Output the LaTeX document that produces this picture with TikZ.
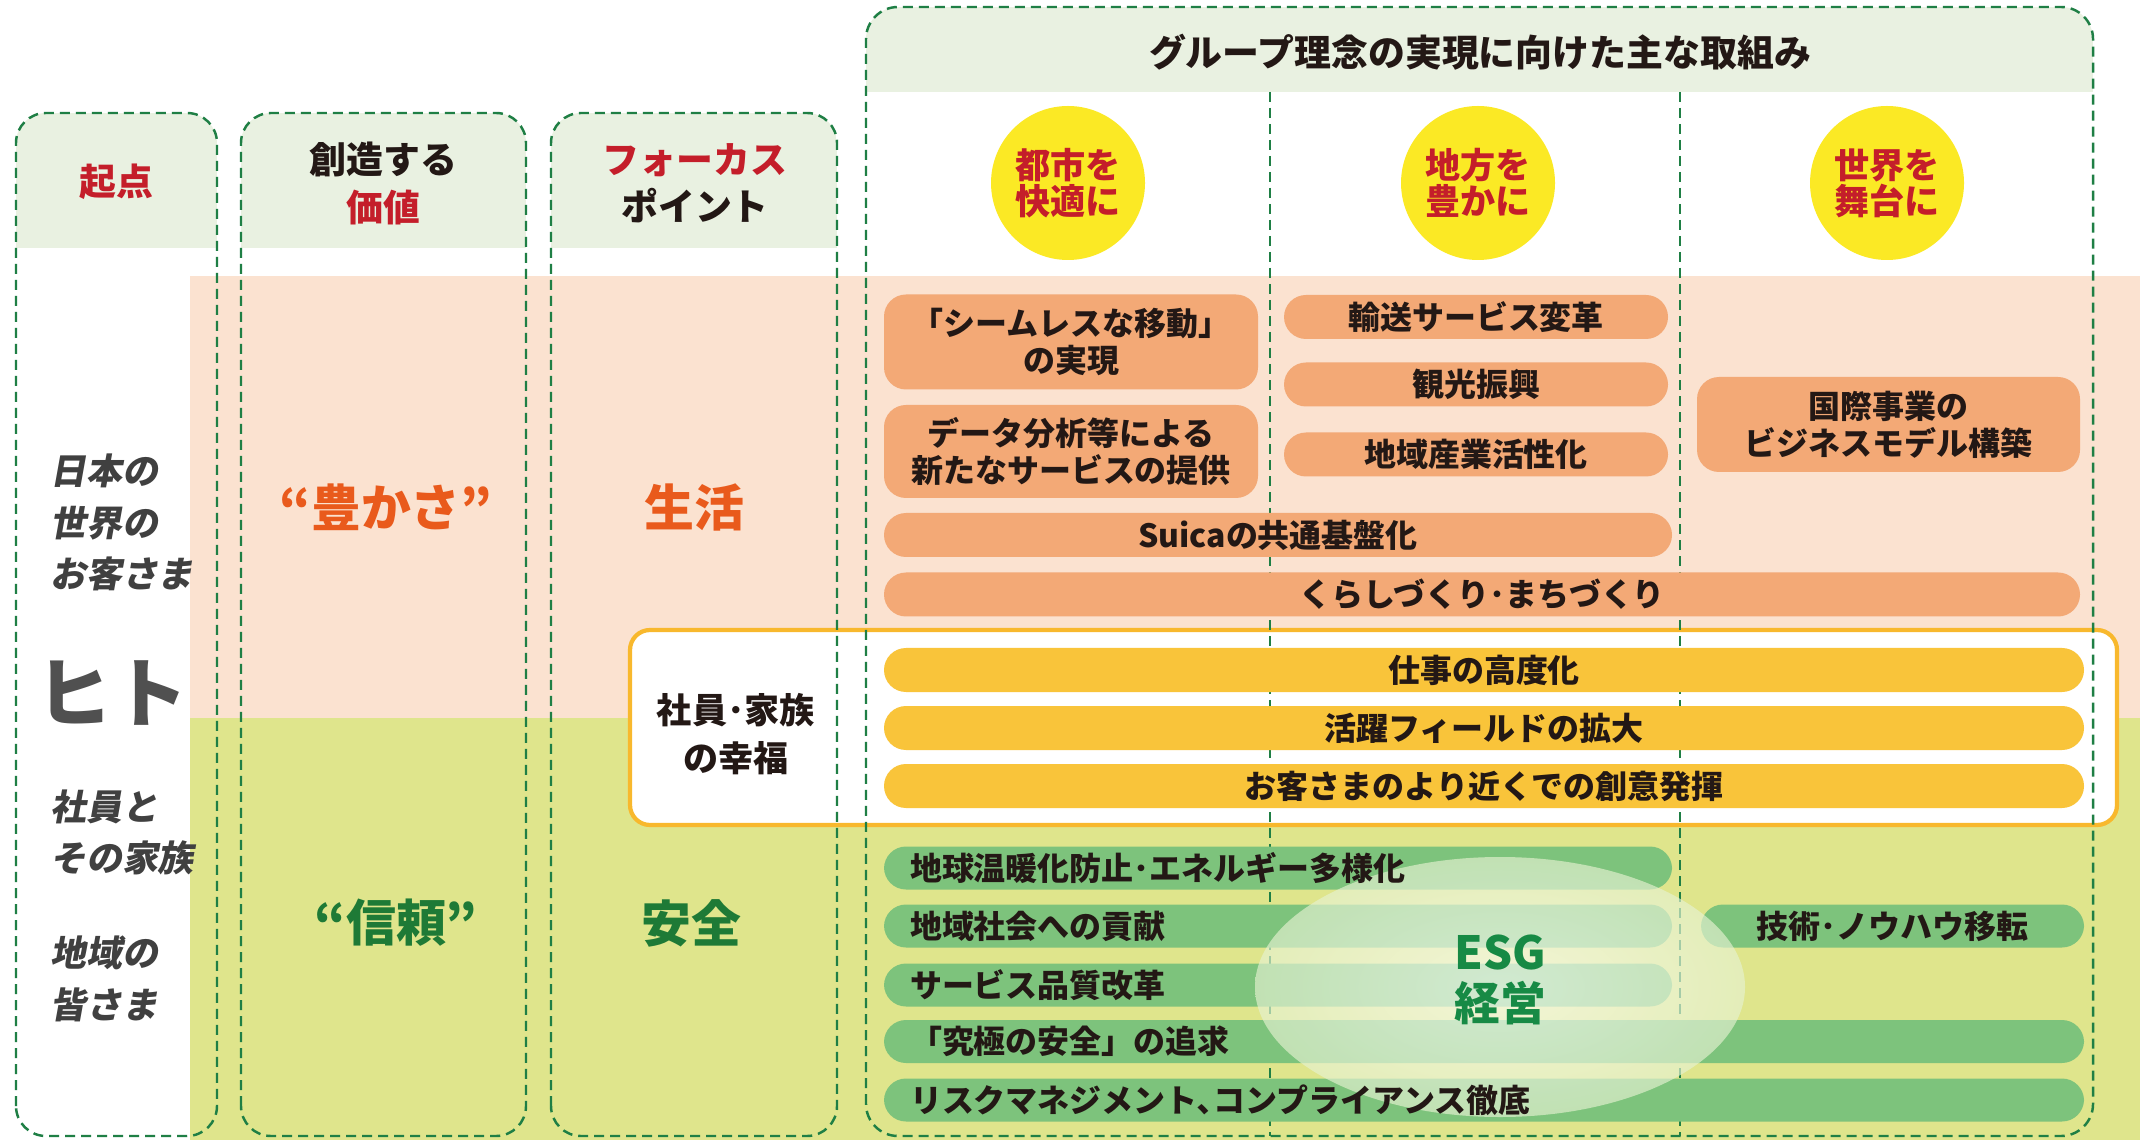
\documentclass[tikz,border=0pt]{standalone}
\usepackage{fontspec}
\setmainfont{Noto Sans CJK JP}
\newfontfamily\slantjp{Noto Sans CJK JP}[FakeSlant=0.18]
\usetikzlibrary{positioning}

\definecolor{dashgreen}{HTML}{1F7F45}
\definecolor{hdrgreen}{HTML}{E9F1E1}
\definecolor{peach}{HTML}{FBE2D0}
\definecolor{lime}{HTML}{DFE58C}
\definecolor{orangebar}{HTML}{F3A976}
\definecolor{yellowbar}{HTML}{F9C43A}
\definecolor{greenbar}{HTML}{7DC37C}
\definecolor{sunyellow}{HTML}{FBE925}
\definecolor{sunborder}{HTML}{F8B82D}
\definecolor{headred}{HTML}{C41E2A}
\definecolor{richorange}{HTML}{E95A1C}
\definecolor{trustgreen}{HTML}{1E7A36}
\definecolor{esggreen}{HTML}{178A45}
\definecolor{glowgreen}{HTML}{E6F2D2}
\definecolor{whogray}{HTML}{404040}
\definecolor{hitogray}{HTML}{505050}
\definecolor{bartxt}{HTML}{231815}

\tikzset{
  colbox/.style={draw=dashgreen, line width=0.7pt,
    dash pattern=on 0.1cm off 0.06cm, rounded corners=0.3cm},
  sunbox/.style={draw=sunborder, fill=white, line width=1.2pt,
    rounded corners=0.2cm},
  goal/.style={circle, fill=sunyellow, minimum size=1.54cm, inner sep=0pt,
    align=center, text=headred,
    font=\bfseries\fontsize{10}{10.3}\selectfont},
  hdtxt/.style={align=center, text=bartxt,
    font=\bfseries\fontsize{10.5}{13.4}\selectfont},
  whotxt/.style={align=left, text=whogray, anchor=west,
    font=\slantjp\bfseries\fontsize{10.2}{14.7}\selectfont},
  bigtxt/.style={font=\bfseries\fontsize{14.2}{16}\selectfont},
  anybar/.style={rounded corners=0.22cm, minimum height=0.44cm,
    inner sep=0pt, align=center, text=bartxt,
    font=\bfseries\fontsize{9.1}{10.5}\selectfont},
  obar/.style={anybar, fill=orangebar},
  ybar/.style={anybar, fill=yellowbar, minimum width=12cm},
  gbar/.style={anybar, fill=greenbar, minimum height=0.43cm},
  gtxt/.style={inner sep=0pt, text=bartxt,
    font=\bfseries\fontsize{9.1}{10.5}\selectfont},
  esgtxt/.style={inner sep=0pt, text=esggreen,
    font=\bfseries\fontsize{13}{14}\selectfont},
}

\begin{document}
\begin{tikzpicture}
  \path[use as bounding box] (0,0) rectangle (21.4,11.4);
  \fill[white] (0,0) rectangle (21.4,11.4);

  % BANDS
  \fill[peach] (1.90,4.22) rectangle (21.4,8.64);
  \fill[lime]  (1.90,0)    rectangle (21.4,4.22);

  % HEADER BANDS
  \foreach \xa/\xb in {0.16/2.17, 2.41/5.26, 5.51/8.37}{
    \begin{scope}
      \clip[rounded corners=0.3cm] (\xa,0.04) rectangle (\xb,10.27);
      \fill[hdrgreen] (\xa,8.92) rectangle (\xb,10.27);
    \end{scope}
  }
  \begin{scope}
    \clip[rounded corners=0.32cm] (8.66,0.04) rectangle (20.93,11.33);
    \fill[hdrgreen] (8.66,10.48) rectangle (20.93,11.33);
  \end{scope}

  % EMPLOYEES BOX
  \draw[sunbox] (6.30,3.15) rectangle (21.17,5.10);

  % GOALS
  \node[goal] (city)   at (10.68,9.57) {都市を\\快適に};
  \node[goal] (region) at (14.78,9.57) {地方を\\豊かに};
  \node[goal] (world)  at (18.87,9.57) {世界を\\舞台に};

  % DASHED FRAMES
  \foreach \xa/\xb in {0.16/2.17, 2.41/5.26, 5.51/8.37}
    \draw[colbox] (\xa,0.04) rectangle (\xb,10.27);
  \draw[colbox,rounded corners=0.32cm] (8.66,0.04) rectangle (20.93,11.33);
  \draw[colbox] (12.70,10.48) -- (12.70,0.04);
  \draw[colbox] (16.80,10.48) -- (16.80,0.04);

  % HEADINGS
  \node[hdtxt, text=headred] (kiten) at (1.165,9.58) {起点};
  \node[hdtxt] (sozo)  at (3.835,9.565) {創造する\\\textcolor{headred}{価値}};
  \node[hdtxt] (focus) at (6.95,9.565) {\textcolor{headred}{フォーカス}\\ポイント};
  \node[hdtxt] (title) at (14.80,10.88) {グループ理念の実現に向けた主な取組み};

  % PEOPLE
  \node[whotxt] (kyaku)  at (0.38,6.175) {日本の\\世界の\\お客さま};
  \node[text=hitogray, font=\bfseries\fontsize{21.6}{22}\selectfont]
    (hito) at (1.12,4.47) {ヒト};
  \node[whotxt] (shain)  at (0.38,3.075) {社員と\\その家族};
  \node[whotxt] (chiiki) at (0.38,1.61)  {地域の\\皆さま};

  % VALUES AND FOCUS
  \node[bigtxt, text=richorange] (yutaka)   at (3.86,6.33) {“豊かさ”};
  \node[bigtxt, text=richorange] (seikatsu) at (6.94,6.33) {生活};
  \node[bigtxt, text=trustgreen] (shinrai)  at (3.96,2.17) {“信頼”};
  \node[bigtxt, text=trustgreen] (anzen)    at (6.91,2.17) {安全};
  \node[hdtxt, font=\bfseries\fontsize{10}{13.6}\selectfont]
    (kofuku) at (7.36,4.06) {社員･家族\\の幸福};

  % ORANGE BARS
  \node[obar, minimum width=3.74cm, minimum height=0.95cm]
    (seamless) at (10.71,7.98) {「シームレスな移動」\\の実現};
  \node[obar, minimum width=3.74cm, minimum height=0.93cm]
    (data) at (10.71,6.885) {データ分析等による\\新たなサービスの提供};
  \node[obar, minimum width=3.84cm] (yuso)   at (14.76,8.23)  {輸送サービス変革};
  \node[obar, minimum width=3.84cm] (kanko)  at (14.76,7.555) {観光振興};
  \node[obar, minimum width=3.84cm] (sangyo) at (14.76,6.855) {地域産業活性化};
  \node[obar, minimum width=3.83cm, minimum height=0.95cm]
    (kokusai) at (18.885,7.155) {国際事業の\\ビジネスモデル構築};
  \node[obar, minimum width=7.88cm]  (suica)   at (12.78,6.05)  {Suicaの共通基盤化};
  \node[obar, minimum width=11.96cm] (kurashi) at (14.82,5.455) {くらしづくり･まちづくり};

  % YELLOW BARS
  \node[ybar] (shigoto)   at (14.84,4.70) {仕事の高度化};
  \node[ybar] (katsuyaku) at (14.84,4.12) {活躍フィールドの拡大};
  \node[ybar] (soi)       at (14.84,3.54) {お客さまのより近くでの創意発揮};

  % GREEN BARS
  \node[gbar, minimum width=7.88cm]  (ondan)     at (12.78,2.72)  {};
  \node[gbar, minimum width=7.88cm]  (kouken)    at (12.78,2.14)  {};
  \node[gbar, minimum width=3.83cm]  (gijutsu)   at (18.925,2.14) {};
  \node[gbar, minimum width=7.88cm]  (hinshitsu) at (12.78,1.55)  {};
  \node[gbar, minimum width=12.00cm] (kyukyoku)  at (14.84,0.985) {};
  \node[gbar, minimum width=12.00cm] (risk)      at (14.84,0.40)  {};

  % ESG GLOW
  \shade[inner color=white, outer color=glowgreen, opacity=0.65]
    (15.00,1.53) ellipse (2.45 and 1.30);

  \node[gtxt, anchor=west] (t-ondan) at ([xshift=0.26cm]ondan.west)
    {地球温暖化防止･エネルギー多様化};
  \node[gtxt, anchor=west] (t-kouken) at ([xshift=0.26cm]kouken.west)
    {地域社会への貢献};
  \node[gtxt] (t-gijutsu) at (gijutsu) {技術･ノウハウ移転};
  \node[gtxt, anchor=west] (t-hinshitsu) at ([xshift=0.26cm]hinshitsu.west)
    {サービス品質改革};
  \node[gtxt, anchor=west] (t-kyukyoku) at ([xshift=0.26cm]kyukyoku.west)
    {「究極の安全」の追求};
  \node[gtxt, anchor=west] (t-risk) at ([xshift=0.26cm]risk.west)
    {リスクマネジメント､コンプライアンス徹底};

  \node[esgtxt] (esg)   at (15.00,1.88) {ESG};
  \node[esgtxt] (keiei) at (15.00,1.37) {経営};
\end{tikzpicture}
\end{document}
